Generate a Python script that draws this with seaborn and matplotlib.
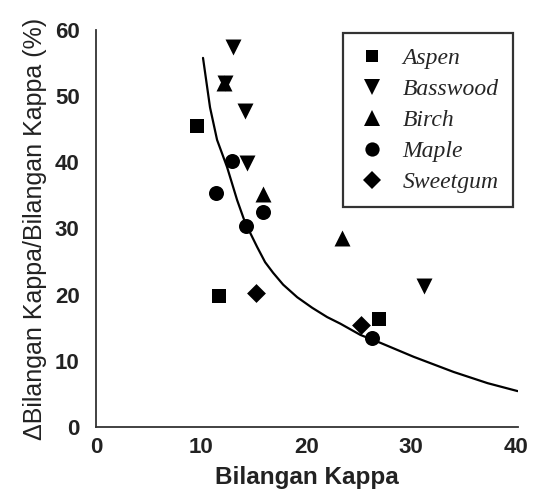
import matplotlib
matplotlib.use("Agg")
import matplotlib.pyplot as plt
import seaborn as sns
import pandas as pd
from matplotlib.lines import Line2D

species = ["Aspen", "Basswood", "Birch", "Maple", "Sweetgum"]
aspen_x = [9.6, 11.7, 26.9]
aspen_y = [45.5, 19.8, 16.3]
basswood_x = [13.0, 12.3, 14.2, 14.4, 31.2]
basswood_y = [57.4, 52.0, 47.8, 39.9, 21.3]
birch_x = [12.2, 15.9, 23.4]
birch_y = [52.0, 35.2, 28.5]
maple_x = [12.9, 11.4, 15.9, 14.3, 26.3]
maple_y = [40.2, 35.3, 32.5, 30.4, 13.4]
sweetgum_x = [15.2, 25.2]
sweetgum_y = [20.2, 15.4]

curve_x = [10.17, 10.84, 11.51, 12.46, 13.42, 14.18, 15.33, 16.09, 16.85, 17.81,
           19.15, 20.58, 22.0, 23.26, 25.17, 27.08, 30.23, 34.05, 37.3, 40.16]
curve_y = [55.8, 48.3, 43.4, 39.3, 34.3, 30.9, 27.2, 24.9, 23.3, 21.5,
           19.6, 18.0, 16.6, 15.6, 13.9, 12.7, 10.6, 8.3, 6.6, 5.4]

xticks = [0, 10, 20, 30, 40]
yticks = [0, 10, 20, 30, 40, 50, 60]

sns.set_theme(style="white")
plt.rcParams['font.family'] = ['Liberation Sans', 'DejaVu Sans']

data = {
    "Aspen": (aspen_x, aspen_y),
    "Basswood": (basswood_x, basswood_y),
    "Birch": (birch_x, birch_y),
    "Maple": (maple_x, maple_y),
    "Sweetgum": (sweetgum_x, sweetgum_y),
}
markers = {"Aspen": "s", "Basswood": "v", "Birch": "^", "Maple": "o", "Sweetgum": "D"}
msize = {"Aspen": 9.4, "Basswood": 11.5, "Birch": 11.5, "Maple": 10.8, "Sweetgum": 9.6}

fig = plt.figure(figsize=(5.38, 4.94), dpi=100)
ax = fig.add_axes([0.179, 0.136, 0.784, 0.803])

curve_df = pd.DataFrame({"x": curve_x, "y": curve_y})
sns.lineplot(data=curve_df, x="x", y="y", ax=ax, color="black", lw=1.6, sort=False)

for sp in species:
    xs, ys = data[sp]
    df = pd.DataFrame({"x": xs, "y": ys})
    sns.scatterplot(data=df, x="x", y="y", ax=ax, marker=markers[sp],
                    s=msize[sp] ** 2, color="black", edgecolor="black", linewidth=0)

ax.set_xlim(0, 40.2)
ax.set_ylim(0, 60)
ax.set_xticks(xticks)
ax.set_yticks(yticks)
ax.set_xticklabels([str(v) for v in xticks], fontsize=16, fontweight="bold", color="#222222")
ax.set_yticklabels([str(v) for v in yticks], fontsize=16, fontweight="bold", color="#222222")
ax.tick_params(axis="both", length=0)
ax.tick_params(axis="x", pad=7)
ax.tick_params(axis="y", pad=12)

for s in ["top", "right"]:
    ax.spines[s].set_visible(False)
for s in ["left", "bottom"]:
    ax.spines[s].set_color("#333333")
    ax.spines[s].set_linewidth(1.3)

ax.set_xlabel("Bilangan Kappa", fontsize=17.5, fontweight="bold", color="#222222", labelpad=6)
ax.set_ylabel("\u0394Bilangan Kappa/Bilangan Kappa (%)", fontsize=18, color="#222222", labelpad=6)

handles = [Line2D([], [], ls="none", marker=markers[sp], color="black",
                  markersize=msize[sp] * 0.95, markeredgewidth=0) for sp in species]
leg = ax.legend(handles, species, loc="upper right", bbox_to_anchor=(0.987, 0.992),
                prop={"family": "Liberation Serif", "style": "italic", "size": 17},
                frameon=True, fancybox=False, edgecolor="black", labelspacing=0.4,
                handletextpad=0.7, handlelength=1.2, borderpad=0.6, borderaxespad=0.0)
leg.get_frame().set_linewidth(1.6)

fig.savefig("out.png", dpi=100)
